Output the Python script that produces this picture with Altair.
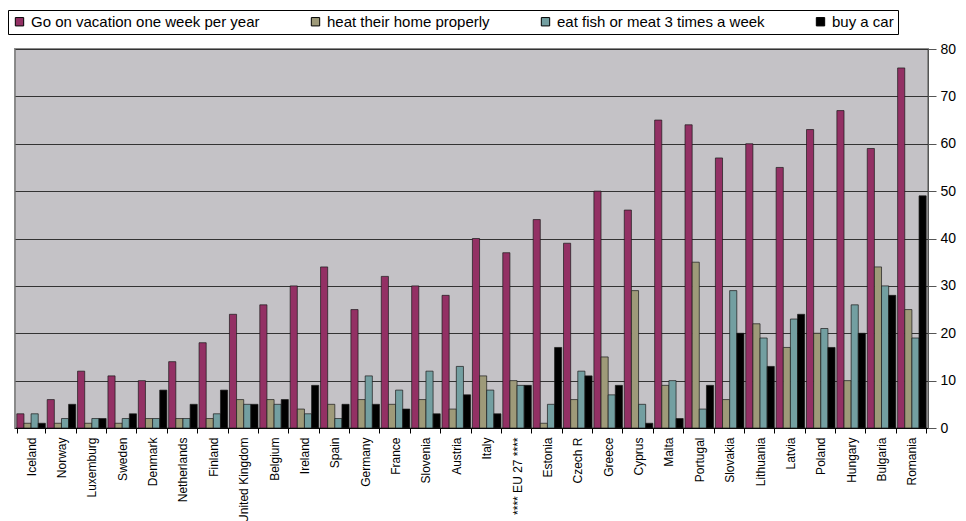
import altair as alt
import pandas as pd

countries = ["Iceland", "Norway", "Luxemburg", "Sweden", "Denmark", "Netherlands",
             "Finland", "United Kingdom", "Belgium", "Ireland", "Spain", "Germany",
             "France", "Slovenia", "Austria", "Italy", "**** EU 27 ****", "Estonia",
             "Czech R", "Greece", "Cyprus", "Malta", "Portugal", "Slovakia",
             "Lithuania", "Latvia", "Poland", "Hungary", "Bulgaria", "Romania"]

series_names = ["Go on vacation one week per year", "heat their home properly",
                "eat fish or meat 3 times a week", "buy a car"]

vacation = [3, 6, 12, 11, 10, 14, 18, 24, 26, 30, 34, 25, 32, 30, 28, 40, 37, 44,
            39, 50, 46, 65, 64, 57, 60, 55, 63, 67, 59, 76]
heat = [1, 1, 1, 1, 2, 2, 2, 6, 6, 4, 5, 6, 5, 6, 4, 11, 10, 1,
        6, 15, 29, 9, 35, 6, 22, 17, 20, 10, 34, 25]
fish = [3, 2, 2, 2, 2, 2, 3, 5, 5, 3, 2, 11, 8, 12, 13, 8, 9, 5,
        12, 7, 5, 10, 4, 29, 19, 23, 21, 26, 30, 19]
car = [1, 5, 2, 3, 8, 5, 8, 5, 6, 9, 5, 5, 4, 3, 7, 3, 9, 17,
       11, 9, 1, 2, 9, 20, 13, 24, 17, 20, 28, 49]

colors = ["#933064", "#9E9A79", "#739FA1", "#000000"]

rows = []
for i, c in enumerate(countries):
    for s, vals in zip(series_names, [vacation, heat, fish, car]):
        rows.append({"country": c, "series": s, "value": vals[i]})
df = pd.DataFrame(rows)

FONT = "Liberation Sans"

chart = alt.Chart(df).mark_bar(stroke="#1a1a1a", strokeWidth=0.7).encode(
    x=alt.X("country:N", sort=countries,
            scale=alt.Scale(paddingInner=0.06, paddingOuter=0.06),
            axis=alt.Axis(title=None, labelAngle=270, labelFont=FONT, labelFontSize=12,
                          labelColor="black", tickBand="extent", domainColor="black",
                          tickColor="black", tickSize=5, labelPadding=4)),
    xOffset=alt.XOffset("series:N", sort=series_names,
                        scale=alt.Scale(paddingInner=0.0)),
    y=alt.Y("value:Q", scale=alt.Scale(domain=[0, 80]),
            axis=alt.Axis(orient="right", values=list(range(0, 90, 10)), title=None,
                          grid=True, gridColor="#333333", gridWidth=1,
                          domainColor="#555555", tickColor="#555555", tickSize=8,
                          labelFont=FONT, labelFontSize=14, labelColor="black",
                          labelPadding=4)),
    color=alt.Color("series:N", sort=series_names,
                    scale=alt.Scale(domain=series_names, range=colors),
                    legend=alt.Legend(orient="none", legendX=-7, legendY=-39,
                                      direction="horizontal", title=None,
                                      strokeColor="black", fillColor="white",
                                      padding=4, symbolType="square", symbolSize=70,
                                      symbolStrokeColor="black", symbolStrokeWidth=1,
                                      labelFont=FONT, labelFontSize=15,
                                      labelColor="black", columnPadding=48,
                                      labelLimit=400))
).properties(
    width=913, height=379,
    autosize=alt.AutoSizeParams(type="none"),
    padding={"left": 15, "top": 49, "right": 38, "bottom": 93},
).configure_view(fill="#C4C2C6", stroke="#8a8a8a", strokeWidth=2)

chart.save("out.html", embed_options={"renderer": "svg", "actions": False})
